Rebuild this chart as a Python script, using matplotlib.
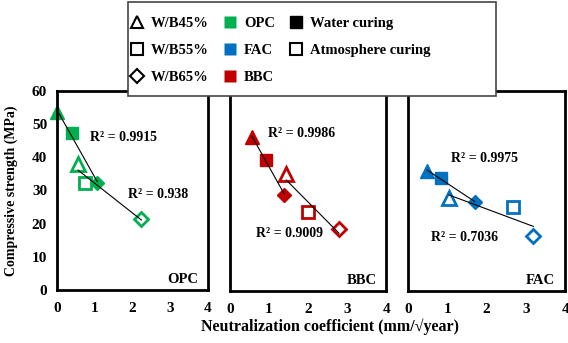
import numpy as np
import matplotlib.pyplot as plt
from matplotlib.lines import Line2D
from matplotlib.patches import Rectangle

plt.rcParams['font.family'] = ['Liberation Serif', 'DejaVu Serif']
plt.rcParams['font.weight'] = 'bold'
plt.rcParams['axes.labelweight'] = 'bold'

# neutralization coefficient (x) and compressive strength (y)
# order: W/B45%, W/B55%, W/B65%
binders = ['OPC', 'BBC', 'FAC']
colors = {'OPC': '#00B050', 'BBC': '#C00000', 'FAC': '#0070C0'}

water_x = {'OPC': [0.0, 0.40, 1.07], 'BBC': [0.56, 0.93, 1.39], 'FAC': [0.49, 0.85, 1.70]}
water_y = {'OPC': [53.6, 47.4, 32.2], 'BBC': [46.3, 39.5, 28.9], 'FAC': [36.0, 33.8, 26.7]}
atmos_x = {'OPC': [0.56, 0.75, 2.24], 'BBC': [1.44, 1.99, 2.79], 'FAC': [1.05, 2.68, 3.19]}
atmos_y = {'OPC': [38.0, 32.3, 21.3], 'BBC': [35.2, 23.9, 18.6], 'FAC': [27.9, 25.2, 16.6]}

r2_water = {'OPC': '0.9915', 'BBC': '0.9986', 'FAC': '0.9975'}
r2_atmos = {'OPC': '0.938', 'BBC': '0.9009', 'FAC': '0.7036'}
r2_water_pos = {'OPC': (0.88, 45.9), 'BBC': (0.97, 47.4), 'FAC': (1.09, 39.8)}
r2_atmos_pos = {'OPC': (1.88, 28.9), 'BBC': (0.67, 17.4), 'FAC': (0.59, 15.9)}

markers = ['^', 's', 'D']
msizes = [10, 9, 7]

fig = plt.figure(figsize=(5.68, 3.43), dpi=100)
boxes = [(0.100, 0.155, 0.266, 0.580), (0.405, 0.152, 0.275, 0.580), (0.718, 0.152, 0.277, 0.583)]

for i, b in enumerate(binders):
    ax = fig.add_axes(boxes[i])
    c = colors[b]
    for xs, ys, filled in [(water_x[b], water_y[b], True), (atmos_x[b], atmos_y[b], False)]:
        for x, y, m, ms in zip(xs, ys, markers, msizes):
            ax.plot(x, y, marker=m, ms=ms, ls='', mfc=c if filled else 'white',
                    mec=c, mew=2 if not filled else 1, zorder=2, clip_on=False)
        k, q = np.polyfit(xs, ys, 1)
        xx = np.array([min(xs), max(xs)])
        ax.plot(xx, k * xx + q, color='black', lw=0.8, zorder=3)
    ax.text(*r2_water_pos[b], 'R² = ' + r2_water[b], fontsize=10, va='center')
    ax.text(*r2_atmos_pos[b], 'R² = ' + r2_atmos[b], fontsize=10, va='center')
    ax.text(3.75, 3, b, fontsize=10.5, ha='right', va='center')
    ax.set_xlim(0, 4)
    ax.set_ylim(0, 60)
    ax.set_xticks([0, 1, 2, 3, 4])
    ax.set_yticks(range(0, 61, 10))
    ax.tick_params(length=0, labelsize=11, pad=9)
    if i > 0:
        ax.set_yticklabels([])
    else:
        ax.tick_params(axis='y', pad=7)
        ax.set_ylabel('Compressive strength (MPa)', fontsize=10, labelpad=10)
    for s in ax.spines.values():
        s.set_linewidth(2)
        s.set_color('black')

fig.text(0.581, 0.047, 'Neutralization coefficient (mm/\u221ayear)', ha='center', va='center', fontsize=11.5)

handles = [
    Line2D([], [], marker='^', ls='', mfc='none', mec='k', mew=1.5, ms=8, label='W/B45%'),
    Line2D([], [], marker='s', ls='', mfc='none', mec='k', mew=1.5, ms=8, label='W/B55%'),
    Line2D([], [], marker='D', ls='', mfc='none', mec='k', mew=1.5, ms=7, label='W/B65%'),
    Line2D([], [], marker='s', ls='', mfc=colors['OPC'], mec='none', ms=9, label='OPC'),
    Line2D([], [], marker='s', ls='', mfc=colors['FAC'], mec='none', ms=9, label='FAC'),
    Line2D([], [], marker='s', ls='', mfc=colors['BBC'], mec='none', ms=9, label='BBC'),
    Line2D([], [], marker='s', ls='', mfc='k', mec='k', ms=9, label='Water curing'),
    Line2D([], [], marker='s', ls='', mfc='white', mec='k', mew=1.5, ms=8, label='Atmosphere curing'),
    Line2D([], [], ls='', label=' '),
]
frame = Rectangle((0.225, 0.72), 0.648, 0.274, transform=fig.transFigure, facecolor='white',
                  edgecolor='#444444', lw=1.2, zorder=9)
fig.add_artist(frame)
leg = fig.legend(handles=handles, ncol=3, loc='upper left', bbox_to_anchor=(0.206, 0.989),
                 fontsize=10.5, frameon=False, handlelength=1, handletextpad=0.45,
                 columnspacing=0.95, labelspacing=0.95, borderpad=0.4)
leg.set_zorder(10)

fig.savefig('out.png', dpi=100)
